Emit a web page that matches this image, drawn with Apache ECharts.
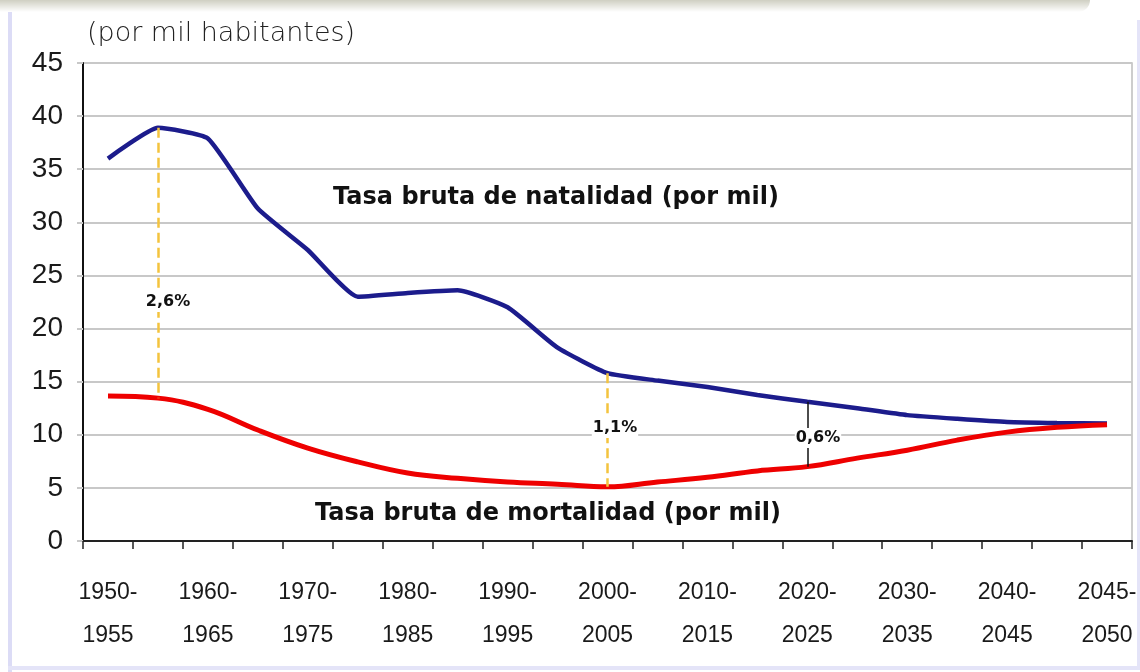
<!DOCTYPE html>
<html>
<head>
<meta charset="utf-8">
<script src="https://cdn.jsdelivr.net/npm/echarts@6/dist/echarts.min.js"></script>
<style>
  html, body { margin: 0; padding: 0; background: #fff; }
  #chart { width: 1140px; height: 672px; }
</style>
</head>
<body>
<div id="chart"></div>
<script>
// periodos quinquenales (la ultima etiqueta del original repite 2045-2050)
const periodos = [
  '1950-1955', '1955-1960', '1960-1965', '1965-1970', '1970-1975',
  '1975-1980', '1980-1985', '1985-1990', '1990-1995', '1995-2000',
  '2000-2005', '2005-2010', '2010-2015', '2015-2020', '2020-2025',
  '2025-2030', '2030-2035', '2035-2040', '2040-2045', '2045-2050',
  '2045-2050'
];
const natalidad = [
  36.0, 38.9, 37.9, 31.3, 27.4, 23.0, 23.35, 23.6, 22.0, 18.2,
  15.8, 15.1, 14.5, 13.75, 13.1, 12.5, 11.85, 11.5, 11.2, 11.1, 11.05
];
const mortalidad = [
  13.65, 13.45, 12.4, 10.45, 8.75, 7.45, 6.4, 5.9, 5.55, 5.35,
  5.1, 5.55, 6.0, 6.6, 7.0, 7.8, 8.55, 9.5, 10.25, 10.7, 10.95
];
const yTicks = { min: 0, max: 45, interval: 5 };

// lineas verticales de crecimiento natural: [indice periodo, estilo]
const brechas = [
  { idx: 1, tipo: 'dashed', color: '#f4c33e' },
  { idx: 10, tipo: 'dashed', color: '#f4c33e' },
  { idx: 14, tipo: 'solid', color: '#111' }
];
const porcentajes = [
  { text: '2,6%', x: 168, y: 302 },
  { text: '1,1%', x: 615, y: 428 },
  { text: '0,6%', x: 818, y: 438 }
];

const chart = echarts.init(document.getElementById('chart'));

const markData = brechas.map(b => [
  { coord: [b.idx, natalidad[b.idx]], lineStyle: { color: b.color, type: b.tipo, width: b.tipo === 'dashed' ? 2.5 : 1.5 } },
  { coord: [b.idx, mortalidad[b.idx]] }
]);

const option = {
  animation: false,
  backgroundColor: '#fff',
  grid: {
    left: 83, right: 8, top: 63, bottom: 131,
    show: true, borderColor: '#bdbdbd', borderWidth: 1.5, backgroundColor: '#fff'
  },
  xAxis: {
    type: 'category',
    data: periodos,
    boundaryGap: true,
    axisLine: { lineStyle: { color: '#222', width: 2 } },
    axisTick: { show: true, interval: 0, length: 8, lineStyle: { color: '#222', width: 1.5 } },
    axisLabel: {
      interval: 1,
      margin: 30,
      color: '#1a1a1a',
      fontFamily: '"Liberation Sans", Arial, sans-serif',
      fontSize: 23,
      lineHeight: 43,
      formatter: v => v.replace('-', '-\n')
    },
    splitLine: { show: false }
  },
  yAxis: {
    type: 'value',
    min: yTicks.min,
    max: yTicks.max,
    interval: yTicks.interval,
    axisLine: { show: true, lineStyle: { color: '#111', width: 2 } },
    axisTick: { show: true, length: 6, lineStyle: { color: '#c8c8c8', width: 2 } },
    axisLabel: {
      margin: 20,
      color: '#1a1a1a',
      fontFamily: '"Liberation Sans", Arial, sans-serif',
      fontSize: 28
    },
    splitLine: { lineStyle: { color: '#c8c8c8', width: 2 } }
  },
  series: [
    {
      name: 'Tasa bruta de natalidad (por mil)',
      type: 'line',
      data: natalidad,
      smooth: 0.15,
      symbol: 'none',
      lineStyle: { color: '#1c1c8c', width: 4.5 },
      z: 3,
      markLine: {
        silent: true,
        symbol: ['none', 'none'],
        label: { show: false },
        data: markData
      }
    },
    {
      name: 'Tasa bruta de mortalidad (por mil)',
      type: 'line',
      data: mortalidad,
      smooth: 0.4,
      symbol: 'none',
      lineStyle: { color: '#ee0000', width: 5 },
      z: 4
    }
  ],
  graphic: [
    // marco de la captura
    {
      type: 'rect', left: 0, top: 0, z: -1,
      shape: { width: 1090, height: 12, r: [0, 0, 12, 0] },
      style: {
        fill: new echarts.graphic.LinearGradient(0, 0, 0, 1, [
          { offset: 0, color: '#cfcfc2' }, { offset: 1, color: '#ffffff' }
        ])
      }
    },
    { type: 'rect', left: 8, top: 12, shape: { width: 4, height: 660 }, style: { fill: '#dcdcf6' } },
    { type: 'rect', left: 8, top: 666, shape: { width: 1132, height: 4 }, style: { fill: '#e4e4f8' } },
    { type: 'rect', left: 1137, top: 20, shape: { width: 3, height: 650 }, style: { fill: '#e4e4f8' } },
    {
      type: 'text', left: 87, top: 20,
      style: {
        text: '(por mil habitantes)',
        fill: '#222',
        font: '200 27px "DejaVu Sans"'
      }
    },
    {
      type: 'text', x: 556, y: 198,
      style: {
        text: 'Tasa bruta de natalidad (por mil)',
        fill: '#111', align: 'center', verticalAlign: 'middle',
        font: 'bold 24px "DejaVu Sans"'
      }
    },
    {
      type: 'text', x: 548, y: 514,
      style: {
        text: 'Tasa bruta de mortalidad (por mil)',
        fill: '#111', align: 'center', verticalAlign: 'middle',
        font: 'bold 24px "DejaVu Sans"'
      }
    }
  ].concat(porcentajes.map(p => ({
    type: 'text', x: p.x, y: p.y, z: 10,
    style: {
      text: p.text,
      fill: '#111', align: 'center', verticalAlign: 'middle',
      font: 'bold 16px "DejaVu Sans"',
      backgroundColor: '#fff',
      padding: [2, 1]
    }
  })))
};

chart.setOption(option);
</script>
</body>
</html>
